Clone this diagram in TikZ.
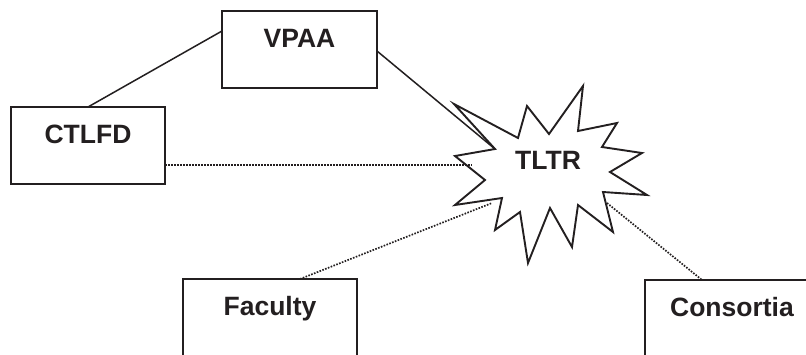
\documentclass[tikz,border=0pt]{standalone}
\usepackage{fontspec}
\setmainfont{Liberation Sans}
\definecolor{ink}{HTML}{231F20}
\begin{document}
\begin{tikzpicture}[x=1pt,y=-1pt,
  box/.style={draw=ink,line width=1.9pt,fill=white,inner sep=0pt,outer sep=0pt,
    minimum height=77pt,text height=19pt,text depth=23pt,
    font=\fontsize{26.5}{30}\selectfont\bfseries,text=ink},
  conn/.style={draw=ink,line width=1.5pt},
  dotconn/.style={draw=ink,line width=1.7pt,dash pattern=on 1.6pt off 1.4pt},
  starline/.style={draw=ink,line width=1.9pt,fill=white,line join=miter}]
\useasboundingbox (0,0) rectangle (806,354);
\clip (0,0) rectangle (806,354);
\fill[white] (0,0) rectangle (806,354);
% boxes
\node[box,minimum width=155pt] (vpaa) at (299.5,49.5) {VPAA};
\node[box,minimum width=154pt] (ctlfd) at (88,145.5) {CTLFD};
\node[box,minimum width=174pt] (fac) at (270,317.5) {Faculty};
\node[box,minimum width=174pt] (cons) at (732,318.5) {Consortia};
% star vertices
\coordinate (s1) at (454,104);
\coordinate (s2) at (518,138);
\coordinate (s3) at (527,106);
\coordinate (s4) at (549,134);
\coordinate (s5) at (583,86);
\coordinate (s6) at (578,131);
\coordinate (s7) at (617,123);
\coordinate (s8) at (602,147);
\coordinate (s9) at (642,153);
\coordinate (s10) at (610,172);
\coordinate (s11) at (647,195);
\coordinate (s12) at (603,192);
\coordinate (s13) at (613,232);
\coordinate (s14) at (578,205);
\coordinate (s15) at (572,247);
\coordinate (s16) at (550,208);
\coordinate (s17) at (528,263);
\coordinate (s18) at (520,212);
\coordinate (s19) at (495,230);
\coordinate (s20) at (502,198);
\coordinate (s21) at (455,205);
\coordinate (s22) at (485,180);
\coordinate (s23) at (455,156);
\coordinate (s24) at (495,149);
\path[starline] (s1)--(s2)--(s3)--(s4)--(s5)--(s6)--(s7)--(s8)--(s9)--(s10)--(s11)--(s12)
  --(s13)--(s14)--(s15)--(s16)--(s17)--(s18)--(s19)--(s20)--(s21)--(s22)--(s23)--(s24)--cycle;
\node[font=\fontsize{26.5}{30}\selectfont\bfseries,text=ink,inner sep=0pt,text height=19pt,text depth=0pt,anchor=base] (tltr) at (548,169.5) {TLTR};
% connector ends
\coordinate (dA) at (472,165);
\coordinate (dB) at (492,203);
\coordinate (dC) at (607,203);
% connectors
\draw[conn] ([yshift=-20pt]vpaa.north west) -- (ctlfd.north);
\draw[conn] ([yshift=-40pt]vpaa.north east) -- (s24);
\draw[dotconn] ([yshift=19pt]ctlfd.south east) -- (dA);
\draw[dotconn] ([xshift=30pt]fac.north) -- (dB);
\draw[dotconn] (dC) -- ([xshift=-30pt]cons.north);
\end{tikzpicture}
\end{document}
